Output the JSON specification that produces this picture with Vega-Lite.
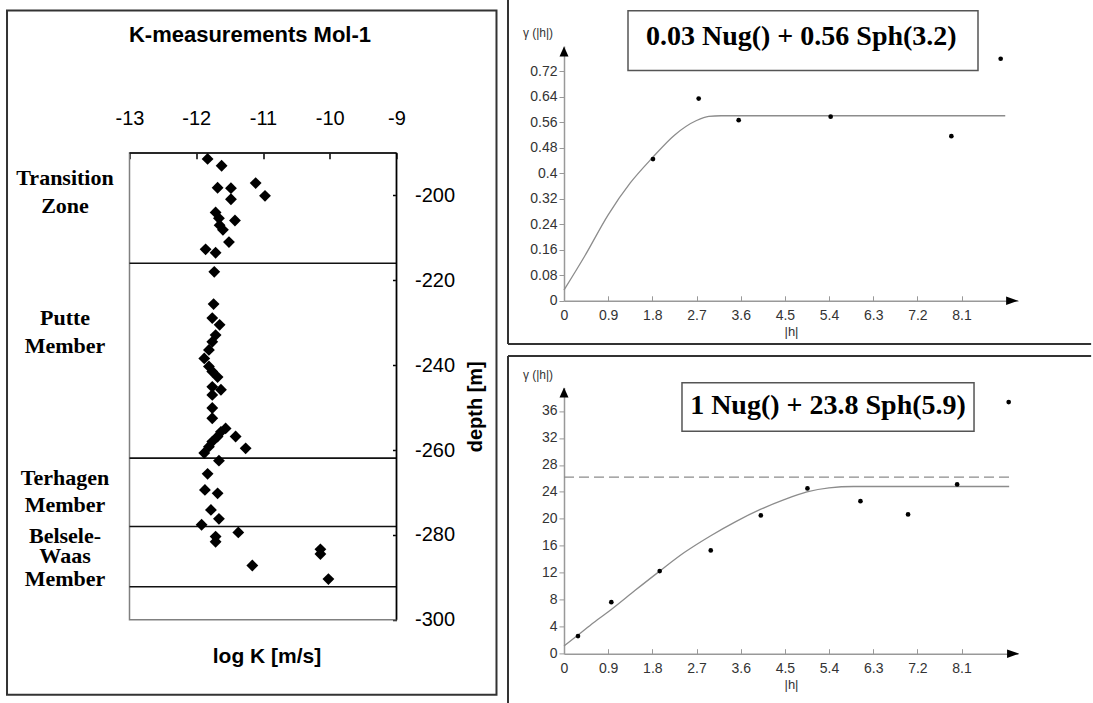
{
  "$schema": "https://vega.github.io/schema/vega-lite/v6.json",
  "background": "white",
  "padding": {"left": 5.5, "top": -2, "right": 0, "bottom": 0},
  "spacing": 8.5,
  "config": {
    "view": {"stroke": null},
    "axis": {"labelFont": "Liberation Sans", "titleFont": "Liberation Sans", "grid": false},
    "text": {"font": "Liberation Sans"}
  },
  "hconcat": [
    {
      "width": 267,
      "height": 573.8,
      "view": {"stroke": null},
      "layer": [
        {
          "data": {"values": [{}]},
          "mark": {"type": "rect", "filled": false, "stroke": "#333", "strokeWidth": 2},
          "encoding": {"x": {"datum": -14.835}, "x2": {"datum": -7.502}, "y": {"datum": -156.43}, "y2": {"datum": -317.68}}
        },
        {
          "data": {"values": [{}]},
          "mark": {"type": "rect", "filled": false, "stroke": "#808080", "strokeWidth": 1.5},
          "encoding": {"x": {"datum": -13}, "x2": {"datum": -9}, "y": {"datum": -190}, "y2": {"datum": -300}}
        },
        {
          "data": {"values": [{"depth": -216.0}, {"depth": -261.9}, {"depth": -278.0}, {"depth": -292.2}]},
          "mark": {"type": "rule", "color": "#111", "strokeWidth": 1.6},
          "encoding": {"y": {"field": "depth", "type": "quantitative"}, "x": {"datum": -13}, "x2": {"datum": -9}}
        },
        {
          "data": {"values": [{}]},
          "mark": {"type": "rule", "color": "black", "strokeWidth": 1.6},
          "encoding": {"y": {"datum": -190}, "x": {"datum": -13}, "x2": {"datum": -9}}
        },
        {
          "data": {"values": [{}]},
          "mark": {"type": "rule", "color": "black", "strokeWidth": 1.6},
          "encoding": {"x": {"datum": -9}, "y": {"datum": -190}, "y2": {"datum": -300}}
        },
        {
          "data": {"values": [
            {"logK": -11.83, "depth": -191.4}, {"logK": -11.62, "depth": -193.0}, {"logK": -11.68, "depth": -198.2},
            {"logK": -11.48, "depth": -198.3}, {"logK": -11.11, "depth": -197.1}, {"logK": -10.97, "depth": -200.1},
            {"logK": -11.48, "depth": -200.9}, {"logK": -11.71, "depth": -204.0}, {"logK": -11.42, "depth": -205.9},
            {"logK": -11.66, "depth": -205.4}, {"logK": -11.65, "depth": -207.0}, {"logK": -11.60, "depth": -208.1},
            {"logK": -11.51, "depth": -211.0}, {"logK": -11.86, "depth": -212.7}, {"logK": -11.71, "depth": -213.5},
            {"logK": -11.73, "depth": -218.0}, {"logK": -11.74, "depth": -225.6}, {"logK": -11.76, "depth": -228.9},
            {"logK": -11.65, "depth": -230.5}, {"logK": -11.71, "depth": -232.9}, {"logK": -11.76, "depth": -234.5},
            {"logK": -11.81, "depth": -236.4}, {"logK": -11.88, "depth": -238.4}, {"logK": -11.81, "depth": -240.3},
            {"logK": -11.76, "depth": -241.5}, {"logK": -11.68, "depth": -242.8}, {"logK": -11.76, "depth": -245.1},
            {"logK": -11.63, "depth": -245.8}, {"logK": -11.76, "depth": -247.0}, {"logK": -11.76, "depth": -250.1},
            {"logK": -11.76, "depth": -252.5}, {"logK": -11.56, "depth": -254.9}, {"logK": -11.63, "depth": -255.7},
            {"logK": -11.68, "depth": -256.8}, {"logK": -11.76, "depth": -258.0}, {"logK": -11.81, "depth": -259.2},
            {"logK": -11.88, "depth": -260.7}, {"logK": -11.41, "depth": -256.8}, {"logK": -11.26, "depth": -259.6},
            {"logK": -11.66, "depth": -262.5}, {"logK": -11.83, "depth": -265.6}, {"logK": -11.87, "depth": -269.4},
            {"logK": -11.68, "depth": -270.2}, {"logK": -11.78, "depth": -274.1}, {"logK": -11.66, "depth": -276.2},
            {"logK": -11.92, "depth": -277.6}, {"logK": -11.37, "depth": -279.4}, {"logK": -11.71, "depth": -280.4},
            {"logK": -11.71, "depth": -281.6}, {"logK": -10.14, "depth": -283.4}, {"logK": -10.14, "depth": -284.5},
            {"logK": -11.16, "depth": -287.2}, {"logK": -10.02, "depth": -290.4}
          ]},
          "mark": {"type": "point", "shape": "diamond", "filled": true, "color": "black", "size": 140, "opacity": 1},
          "encoding": {
            "x": {"field": "logK", "type": "quantitative", "scale": {"domain": [-13, -9], "nice": false, "zero": false},
              "axis": {"orient": "top", "offset": -106.8, "domain": false, "values": [-13, -12, -11, -10, -9], "tickCount": 20, "title": null, "labelExpr": "'' + datum.value",
                "tickSize": -6, "labelPadding": 30, "labelFontSize": 20, "labelColor": "black", "labelFlush": false, "labelOverlap": false,
                "tickColor": "black", "tickWidth": 1.5}},
            "y": {"field": "depth", "type": "quantitative", "scale": {"domain": [-300, -164.79], "nice": false, "zero": false},
              "axis": {"orient": "right", "domain": false, "values": [-200, -220, -240, -260, -280, -300], "tickCount": 20, "title": null, "labelExpr": "'' + datum.value",
                "tickSize": -4, "labelPadding": 22, "labelFontSize": 20, "labelColor": "black", "labelOverlap": false,
                "tickColor": "black", "tickWidth": 1.5}}
          }
        },
        {
          "data": {"values": [
            {"label": "Transition", "depth": -197.54}, {"label": "Zone", "depth": -204.2},
            {"label": "Putte", "depth": -230.52}, {"label": "Member", "depth": -237.04},
            {"label": "Terhagen", "depth": -268.21}, {"label": "Member", "depth": -274.64},
            {"label": "Belsele-", "depth": -281.94}, {"label": "Waas", "depth": -286.65}, {"label": "Member", "depth": -291.93}
          ]},
          "mark": {"type": "text", "font": "Liberation Serif", "fontWeight": "bold", "fontSize": 22, "align": "center", "baseline": "alphabetic", "color": "black"},
          "encoding": {"text": {"field": "label"}, "x": {"datum": -13.966}, "y": {"field": "depth", "type": "quantitative"}}
        },
        {
          "data": {"values": [{"t": "K-measurements Mol-1"}]},
          "mark": {"type": "text", "fontWeight": "bold", "fontSize": 22, "align": "center", "baseline": "middle", "color": "black"},
          "encoding": {"text": {"field": "t"}, "x": {"datum": -11.195}, "y": {"datum": -162.2}}
        },
        {
          "data": {"values": [{"t": "log K [m/s]"}]},
          "mark": {"type": "text", "fontWeight": "bold", "fontSize": 21, "align": "center", "baseline": "middle", "color": "black"},
          "encoding": {"text": {"field": "t"}, "x": {"datum": -10.94}, "y": {"datum": -308.73}}
        },
        {
          "data": {"values": [{"t": "depth [m]"}]},
          "mark": {"type": "text", "fontWeight": "bold", "fontSize": 20, "align": "center", "baseline": "middle", "angle": 270, "color": "black"},
          "encoding": {"text": {"field": "t"}, "x": {"datum": -7.809}, "y": {"datum": -249.8}}
        }
      ]
    },
    {
      "spacing": 8.4,
      "vconcat": [
        {
          "width": 454,
          "height": 254.8,
          "view": {"stroke": null},
          "layer": [
            {
              "data": {"values": [{}]},
              "mark": {"type": "rule", "color": "#333", "strokeWidth": 2},
              "encoding": {"x": {"datum": -1.141}, "y": {"datum": 0.945}, "y2": {"datum": -0.136}}
            },
            {
              "data": {"values": [{}]},
              "mark": {"type": "rule", "color": "#333", "strokeWidth": 2},
              "encoding": {"x": {"datum": -1.141}, "x2": {"datum": 10.74}, "y": {"datum": -0.136}}
            },
            {
              "data": {"values": [{}]},
              "mark": {"type": "rect", "fill": "white", "stroke": "#555", "strokeWidth": 1.5},
              "encoding": {"x": {"datum": 1.304}, "x2": {"datum": 8.435}, "y": {"datum": 0.911}, "y2": {"datum": 0.723}}
            },
            {
              "data": {"values": [{"eq": "0.03 Nug() + 0.56 Sph(3.2)"}]},
              "mark": {"type": "text", "font": "Liberation Serif", "fontWeight": "bold", "fontSize": 28, "align": "center", "baseline": "middle", "color": "black"},
              "encoding": {"text": {"field": "eq"}, "x": {"datum": 4.835}, "y": {"datum": 0.8298}}
            },
            {
              "data": {"values": [
                {"h": 0, "g": 0.034}, {"h": 0.42, "g": 0.14}, {"h": 0.9, "g": 0.27}, {"h": 1.35, "g": 0.37},
                {"h": 1.8, "g": 0.449}, {"h": 2.25, "g": 0.52}, {"h": 2.7, "g": 0.566}, {"h": 2.95, "g": 0.579},
                {"h": 3.2, "g": 0.581}, {"h": 8.99, "g": 0.581}
              ]},
              "mark": {"type": "line", "color": "#8c8c8c", "strokeWidth": 1.3, "interpolate": "monotone"},
              "encoding": {"x": {"field": "h", "type": "quantitative"}, "y": {"field": "g", "type": "quantitative"}}
            },
            {
              "data": {"values": [
                {"h": 1.813, "g": 0.445}, {"h": 2.744, "g": 0.635}, {"h": 3.559, "g": 0.567},
                {"h": 5.433, "g": 0.578}, {"h": 7.892, "g": 0.517}, {"h": 8.897, "g": 0.76}
              ]},
              "mark": {"type": "point", "filled": true, "color": "black", "size": 22, "opacity": 1},
              "encoding": {
                "x": {"field": "h", "type": "quantitative", "scale": {"domain": [0, 9.25], "nice": false, "zero": false},
                  "axis": {"values": [0, 0.9, 1.8, 2.7, 3.6, 4.5, 5.4, 6.3, 7.2, 8.1], "tickCount": 30, "labelExpr": "'' + datum.value", "title": "|h|", "titleFontSize": 13, "titleFontWeight": "normal", "titleColor": "#333", "titlePadding": 3,
                    "tickSize": -5, "labelPadding": 13, "labelFontSize": 14, "labelColor": "#333", "labelFlush": false, "labelOverlap": false,
                    "domainColor": "#999", "domainWidth": 1.5, "tickColor": "#999"}},
                "y": {"field": "g", "type": "quantitative", "scale": {"domain": [0, 0.8], "nice": false, "zero": false},
                  "axis": {"values": [0, 0.08, 0.16, 0.24, 0.32, 0.4, 0.48, 0.56, 0.64, 0.72], "tickCount": 30, "labelExpr": "'' + datum.value", "title": null,
                    "tickSize": 5, "labelPadding": 2, "labelFontSize": 14, "labelColor": "#333", "labelOverlap": false,
                    "domainColor": "#999", "domainWidth": 1.5, "tickColor": "#999"}}
              }
            },
            {
              "data": {"values": [{}]},
              "mark": {"type": "point", "shape": "M0,-1L0.9,1L-0.9,1Z", "filled": true, "color": "black", "size": 100, "opacity": 1},
              "encoding": {"x": {"datum": 0}, "y": {"datum": 0.783}}
            },
            {
              "data": {"values": [{}]},
              "mark": {"type": "point", "shape": "M1,0L-1,0.7L-1,-0.7Z", "filled": true, "color": "black", "size": 144, "opacity": 1},
              "encoding": {"x": {"datum": 9.13}, "y": {"datum": 0}}
            },
            {
              "data": {"values": [{"t": "γ (|h|)"}]},
              "mark": {"type": "text", "fontSize": 12, "color": "#333", "align": "center", "baseline": "middle"},
              "encoding": {"text": {"field": "t"}, "x": {"datum": -0.53}, "y": {"datum": 0.841}}
            }
          ]
        },
        {
          "width": 454,
          "height": 266.3,
          "view": {"stroke": null},
          "layer": [
            {
              "data": {"values": [{}]},
              "mark": {"type": "rule", "color": "#333", "strokeWidth": 2},
              "encoding": {"x": {"datum": -1.141}, "y": {"datum": 44.14}, "y2": {"datum": -7.3}}
            },
            {
              "data": {"values": [{}]},
              "mark": {"type": "rule", "color": "#333", "strokeWidth": 2},
              "encoding": {"x": {"datum": -1.141}, "x2": {"datum": 10.74}, "y": {"datum": 44.14}}
            },
            {
              "data": {"values": [{}]},
              "mark": {"type": "rule", "color": "#8c8c8c", "strokeWidth": 1.3, "strokeDash": [10, 5]},
              "encoding": {"x": {"datum": 0}, "x2": {"datum": 9.07}, "y": {"datum": 26.2}}
            },
            {
              "data": {"values": [{}]},
              "mark": {"type": "rect", "fill": "white", "stroke": "#555", "strokeWidth": 1.5},
              "encoding": {"x": {"datum": 2.404}, "x2": {"datum": 8.354}, "y": {"datum": 40.2}, "y2": {"datum": 33.0}}
            },
            {
              "data": {"values": [{"eq": "1 Nug() + 23.8 Sph(5.9)"}]},
              "mark": {"type": "text", "font": "Liberation Serif", "fontWeight": "bold", "fontSize": 28, "align": "center", "baseline": "middle", "color": "black"},
              "encoding": {"text": {"field": "eq"}, "x": {"datum": 5.379}, "y": {"datum": 36.73}}
            },
            {
              "data": {"values": [
                {"h": 0, "g": 1.13}, {"h": 0.3, "g": 2.85}, {"h": 0.6, "g": 4.6}, {"h": 0.97, "g": 6.6},
                {"h": 1.45, "g": 9.4}, {"h": 1.95, "g": 12.25}, {"h": 2.45, "g": 15.0}, {"h": 2.99, "g": 17.5},
                {"h": 3.5, "g": 19.6}, {"h": 4.0, "g": 21.4}, {"h": 4.5, "g": 22.9}, {"h": 4.95, "g": 24.0},
                {"h": 5.4, "g": 24.6}, {"h": 5.9, "g": 24.8}, {"h": 9.07, "g": 24.8}
              ]},
              "mark": {"type": "line", "color": "#8c8c8c", "strokeWidth": 1.3, "interpolate": "monotone"},
              "encoding": {"x": {"field": "h", "type": "quantitative"}, "y": {"field": "g", "type": "quantitative"}}
            },
            {
              "data": {"values": [
                {"h": 0.285, "g": 2.61}, {"h": 0.964, "g": 7.65}, {"h": 1.95, "g": 12.25}, {"h": 2.99, "g": 15.32},
                {"h": 4.01, "g": 20.51}, {"h": 4.96, "g": 24.52}, {"h": 6.04, "g": 22.63}, {"h": 7.01, "g": 20.66},
                {"h": 8.01, "g": 25.11}, {"h": 9.06, "g": 37.32}
              ]},
              "mark": {"type": "point", "filled": true, "color": "black", "size": 22, "opacity": 1},
              "encoding": {
                "x": {"field": "h", "type": "quantitative", "scale": {"domain": [0, 9.25], "nice": false, "zero": false},
                  "axis": {"values": [0, 0.9, 1.8, 2.7, 3.6, 4.5, 5.4, 6.3, 7.2, 8.1], "tickCount": 30, "labelExpr": "'' + datum.value", "title": "|h|", "titleFontSize": 13, "titleFontWeight": "normal", "titleColor": "#333", "titlePadding": 3,
                    "tickSize": -5, "labelPadding": 13, "labelFontSize": 14, "labelColor": "#333", "labelFlush": false, "labelOverlap": false,
                    "domainColor": "#999", "domainWidth": 1.5, "tickColor": "#999"}},
                "y": {"field": "g", "type": "quantitative", "scale": {"domain": [0, 39.5], "nice": false, "zero": false},
                  "axis": {"values": [0, 4, 8, 12, 16, 20, 24, 28, 32, 36], "tickCount": 30, "labelExpr": "'' + datum.value", "title": null,
                    "tickSize": 5, "labelPadding": 2, "labelFontSize": 14, "labelColor": "#333", "labelOverlap": false,
                    "domainColor": "#999", "domainWidth": 1.5, "tickColor": "#999"}}
              }
            },
            {
              "data": {"values": [{}]},
              "mark": {"type": "point", "shape": "M0,-1L0.9,1L-0.9,1Z", "filled": true, "color": "black", "size": 100, "opacity": 1},
              "encoding": {"x": {"datum": 0}, "y": {"datum": 38.76}}
            },
            {
              "data": {"values": [{}]},
              "mark": {"type": "point", "shape": "M1,0L-1,0.7L-1,-0.7Z", "filled": true, "color": "black", "size": 144, "opacity": 1},
              "encoding": {"x": {"datum": 9.15}, "y": {"datum": 0}}
            },
            {
              "data": {"values": [{"t": "γ (|h|)"}]},
              "mark": {"type": "text", "fontSize": 12, "color": "#333", "align": "center", "baseline": "middle"},
              "encoding": {"text": {"field": "t"}, "x": {"datum": -0.53}, "y": {"datum": 41.28}}
            }
          ]
        }
      ]
    }
  ]
}
